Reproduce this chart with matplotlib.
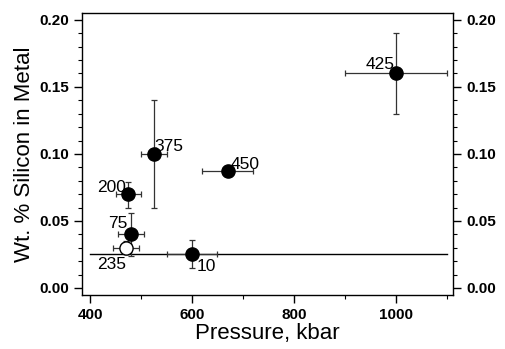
import matplotlib
matplotlib.use("Agg")
import matplotlib.pyplot as plt
from matplotlib.ticker import MultipleLocator

plt.rcParams['font.family'] = ['Liberation Sans', 'DejaVu Sans']

# data
labels = ["425", "375", "450", "200", "75", "235", "10"]
pressure = [1000, 525, 670, 475, 480, 470, 600]
silicon = [0.160, 0.100, 0.087, 0.070, 0.040, 0.030, 0.025]
p_lo = [900, 500, 620, 450, 455, 445, 550]
p_hi = [1100, 550, 720, 500, 505, 495, 650]
si_lo = [0.130, 0.060, 0.084, 0.060, 0.024, 0.025, 0.015]
si_hi = [0.190, 0.140, 0.090, 0.079, 0.056, 0.035, 0.036]
filled = [True, True, True, True, True, False, True]
# extended pressure range for run 10
ext_p = [400, 1100]
ext_si = 0.025
label_pos = [(940, 0.1635), (527, 0.1025), (676, 0.089), (414, 0.0715),
             (435, 0.0445), (414, 0.0145), (609, 0.0125)]

fig = plt.figure(figsize=(5.06, 3.49), dpi=100)
ax = fig.add_axes([0.162, 0.155, 0.733, 0.808])

ax.plot(ext_p, [ext_si, ext_si], color='black', lw=1.0, zorder=1)
for i in range(len(labels)):
    x, y = pressure[i], silicon[i]
    xerr = [[x - p_lo[i]], [p_hi[i] - x]]
    yerr = [[y - si_lo[i]], [si_hi[i] - y]]
    ax.errorbar([x], [y], xerr=xerr, yerr=yerr, fmt='none', ecolor='#333333',
                elinewidth=0.9, capsize=2.5, capthick=0.9, zorder=2)
    ax.plot([x], [y], 'o', ms=9.5, mfc='black' if filled[i] else 'white',
            mec='black', mew=1.0, zorder=3)
    ax.text(label_pos[i][0], label_pos[i][1], labels[i], fontsize=12.5,
            ha='left', va='baseline', zorder=4)

ax.set_xlim(384, 1112)
ax.set_ylim(-0.0052, 0.2052)
ax.xaxis.set_major_locator(MultipleLocator(200))
ax.xaxis.set_minor_locator(MultipleLocator(100))
ax.yaxis.set_major_locator(MultipleLocator(0.05))
ax.yaxis.set_minor_locator(MultipleLocator(0.01))
ax.yaxis.set_major_formatter(matplotlib.ticker.FormatStrFormatter('%.2f'))

ax.tick_params(axis='both', which='major', direction='out', length=6, width=1,
               labelsize=11)
ax.tick_params(axis='both', which='minor', direction='out', length=3, width=0.8)
ax.tick_params(axis='y', which='both', right=True, labelright=True)
for t in ax.xaxis.get_major_ticks():
    t.label1.set_fontweight('bold')
for t in ax.yaxis.get_major_ticks():
    t.label1.set_fontweight('bold')
    t.label2.set_fontweight('bold')

for s in ax.spines.values():
    s.set_linewidth(1.0)

ax.set_xlabel("Pressure, kbar", fontsize=16, labelpad=1)
ax.set_ylabel("Wt. % Silicon in Metal", fontsize=16, labelpad=3)

fig.savefig("out.png", dpi=100)
